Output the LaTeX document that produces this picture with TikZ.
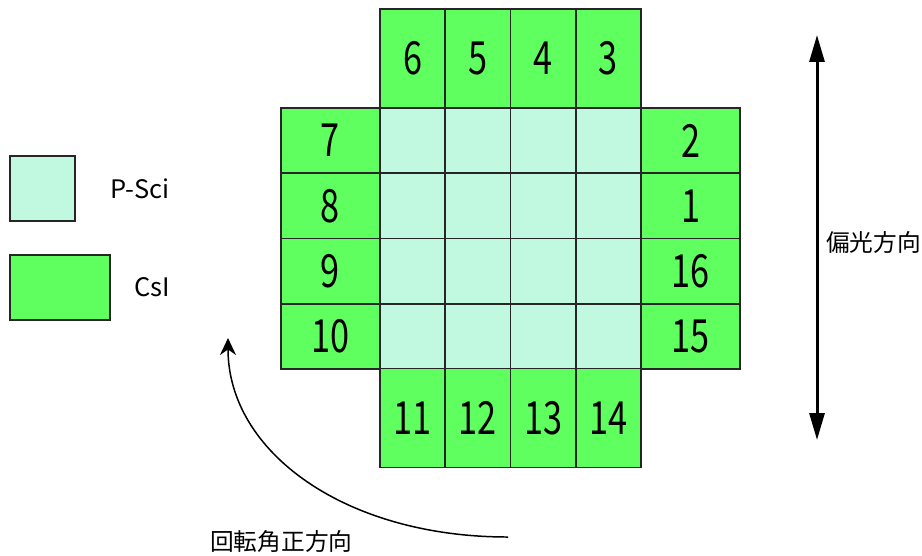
\documentclass[tikz,border=0pt]{standalone}
\usepackage{fontspec}
\newfontfamily\jpfont{Noto Sans CJK JP}
\newfontfamily\numfont[FakeStretch=0.75]{Noto Sans CJK JP}
\usetikzlibrary{arrows.meta}
\definecolor{csigreen}{RGB}{96,255,96}
\definecolor{pscimint}{RGB}{192,248,224}

\begin{document}
\begin{tikzpicture}[x=0.02cm, y=-0.02cm,
    cella/.style={draw=black!85, line width=0.9pt, inner sep=0pt, font=\numfont\fontsize{26}{26}\selectfont},
    psci/.style={cella, fill=pscimint, minimum width=1.305cm, minimum height=1.305cm},
    csih/.style={cella, fill=csigreen, minimum width=1.98cm, minimum height=1.305cm},
    csiv/.style={cella, fill=csigreen, minimum width=1.305cm, minimum height=1.98cm},
    legenda/.style={font=\jpfont\fontsize{14.5}{14.5}\selectfont},
    dir/.style={font=\jpfont\fontsize{13.5}{13.5}\selectfont}]
    \useasboundingbox (0,0) rectangle (922,555);
    % P-Sci
    \node[psci] (p11) at (412.6,140.6) {};
    \node[psci] (p12) at (477.9,140.6) {};
    \node[psci] (p13) at (543.1,140.6) {};
    \node[psci] (p14) at (608.4,140.6) {};
    \node[psci] (p21) at (412.6,205.9) {};
    \node[psci] (p22) at (477.9,205.9) {};
    \node[psci] (p23) at (543.1,205.9) {};
    \node[psci] (p24) at (608.4,205.9) {};
    \node[psci] (p31) at (412.6,271.1) {};
    \node[psci] (p32) at (477.9,271.1) {};
    \node[psci] (p33) at (543.1,271.1) {};
    \node[psci] (p34) at (608.4,271.1) {};
    \node[psci] (p41) at (412.6,336.4) {};
    \node[psci] (p42) at (477.9,336.4) {};
    \node[psci] (p43) at (543.1,336.4) {};
    \node[psci] (p44) at (608.4,336.4) {};
    % CsI
    \node[csiv] (c6) at (412.6,58.5) {6};
    \node[csiv] (c5) at (477.9,58.5) {5};
    \node[csiv] (c4) at (543.1,58.5) {4};
    \node[csiv] (c3) at (608.4,58.5) {3};
    \node[csih] (c7) at (330.5,140.6) {7};
    \node[csih] (c8) at (330.5,205.9) {8};
    \node[csih] (c9) at (330.5,271.1) {9};
    \node[csih] (c10) at (330.5,336.4) {10};
    \node[csih] (c2) at (690.5,140.6) {2};
    \node[csih] (c1) at (690.5,205.9) {1};
    \node[csih] (c16) at (690.5,271.1) {16};
    \node[csih] (c15) at (690.5,336.4) {15};
    \node[csiv] (c11) at (412.6,418) {11};
    \node[csiv] (c12) at (477.9,418) {12};
    \node[csiv] (c13) at (543.1,418) {13};
    \node[csiv] (c14) at (608.4,418) {14};
    % Legenda
    \node[psci] (legpsci) at (42.5,188.5) {};
    \node[csih, minimum width=2cm] (legcsi) at (60,287.5) {};
    \node[legenda] (txtpsci) at (140,188.5) {P-Sci};
    \node[legenda] (txtcsi) at (152,287.5) {CsI};
    % Polarizzazione
    \coordinate (poltop) at (817,35);
    \coordinate (polbot) at (817,440);
    \draw[{Triangle[length=0.54cm,width=0.3cm]}-{Triangle[length=0.54cm,width=0.3cm]}, line width=1.7pt] (poltop) -- (polbot);
    \node[dir, anchor=west] (txtpol) at (820,242) {偏光方向};
    % Rotazione
    \coordinate (rotstart) at (508,537);
    \coordinate (rotend) at (228,338);
    \draw[-{Stealth[length=0.34cm,width=0.32cm]}, line width=0.85pt] (rotstart) .. controls (345,537) and (228,452) .. (rotend);
    \node[dir, anchor=west] (txtrot) at (204,541) {回転角正方向};
\end{tikzpicture}
\end{document}
